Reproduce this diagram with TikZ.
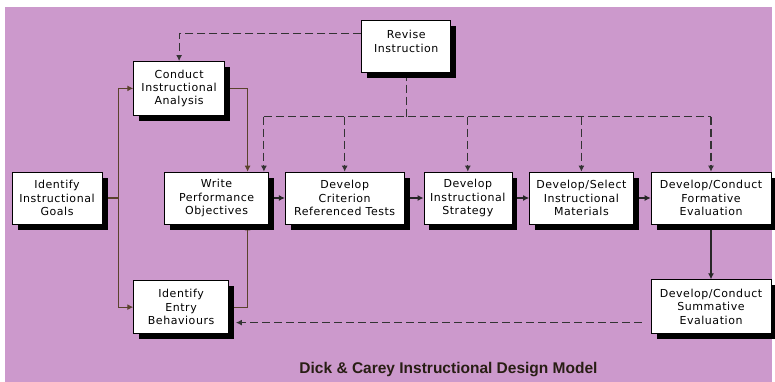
\documentclass[tikz,border=0pt]{standalone}
\usepackage{fontspec}
\setmainfont[LetterSpace=5]{DejaVu Sans}
\newfontfamily\titlefont{Liberation Sans}
\usetikzlibrary{positioning,calc,shadows,arrows.meta}
\definecolor{backpurple}{RGB}{204,153,204}
\definecolor{wirebrown}{RGB}{90,66,44}
\definecolor{titledark}{RGB}{40,30,20}
\pgfdeclarelayer{backdrop}
\pgfdeclarelayer{wires}
\pgfsetlayers{backdrop,wires,main}

\begin{document}
\begin{tikzpicture}[x=1pt,y=-1pt,thick,>={Latex[length=6pt,width=6pt]}]
    % `stage' is used for every step of the model (white boxes).
    % `wire' and `flow' are the solid connectors, `feedback' the dashed ones.
    \tikzstyle{stage} = [draw,fill=white,line width=0.6pt,minimum height=52pt,inner sep=2pt,align=center,
        font=\fontsize{11}{13.3}\selectfont,
        drop shadow={shadow xshift=5.5pt,shadow yshift=-5.5pt,fill=black,opacity=1}]
    \tikzstyle{wire} = [draw=wirebrown,line width=1.1pt,->]
    \tikzstyle{flow} = [draw=black!85,line width=1.1pt,->]
    \tikzstyle{feedback} = [draw=black!80,line width=1.1pt,dash pattern=on 8pt off 4pt]
    %
    \useasboundingbox (0,0) rectangle (775,382);
    \node[stage,minimum width=90pt] (goals) at (57,198) {Identify\\Instructional\\Goals};
    \node[stage,minimum width=104pt,right=62pt of goals] (write) {Write\\Performance\\Objectives};
    \node[stage,minimum width=119pt,right=16pt of write] (tests) {Develop\\Criterion\\Referenced Tests};
    \node[stage,minimum width=88pt,right=19pt of tests] (strategy) {Develop\\Instructional\\Strategy};
    \node[stage,minimum width=104pt,right=17pt of strategy] (materials) {Develop/Select\\Instructional\\Materials};
    \node[stage,minimum width=120pt,right=17pt of materials] (formative) {Develop/Conduct\\Formative\\Evaluation};

    \node[stage,minimum width=91pt,minimum height=54pt,above=56pt of write,xshift=-37.5pt] (analysis) {Conduct\\Instructional\\Analysis};
    \node[stage,minimum width=95pt,minimum height=53pt,below=56pt of write,xshift=-35.5pt] (entry) {Identify\\Entry\\Behaviours};
    \node[stage,minimum width=120pt,minimum height=54pt,below=55pt of formative] (summative) {Develop/Conduct\\Summative\\Evaluation};
    \coordinate (mid) at ($(tests.north)!0.5!(strategy.north)$);
    \node[stage,minimum width=89pt,minimum height=52pt,above=99pt of mid] (revise) {Revise\\Instruction\\[-3pt]};

    \node[font=\titlefont\bfseries\fontsize{15.5}{18}\selectfont,text=titledark] (caption) at (448.5,370)
        {Dick \& Carey Instructional Design Model};

  \begin{pgfonlayer}{backdrop}
        % Draw background.
        \fill[backpurple] (5,7) rectangle (772,382);
  \end{pgfonlayer}
  \begin{pgfonlayer}{wires}
        % Draw solid lines.
        \coordinate (split) at ([xshift=16pt]goals.east);
        \draw[wire] (goals.east) -- (split) |- (analysis.west);
        \draw[wire] (split) |- (entry.west);
        \draw[wire] (analysis.east) -| ([xshift=31pt]write.north);
        \draw[wire] (entry.east) -| ([xshift=31pt]write.south);
        \draw[flow] (write.east) -- (tests.west);
        \draw[flow] (tests.east) -- (strategy.west);
        \draw[flow] (strategy.east) -- (materials.west);
        \draw[flow] (materials.east) -- (formative.west);
        \draw[flow] (formative.south) -- (summative.north);
        % Draw dashed lines.
        \draw[feedback,->] ([yshift=13pt]revise.west) -| (analysis.north);
        \coordinate (bus) at ([yshift=-44pt]revise.south);
        \coordinate (wtop) at ([xshift=-5pt]write.north east);
        \draw[feedback] (revise.south) -- (bus);
        \draw[feedback] (wtop |- bus) -- (formative.north |- bus);
        \draw[feedback,->] (wtop |- bus) -- (wtop);
        \foreach \n in {tests,strategy,materials,formative}
            \draw[feedback,->] (\n.north |- bus) -- (\n.north);
        \coordinate (back) at ([xshift=-9pt,yshift=-16pt]summative.west);
        \draw[feedback,->] (back) -- ([xshift=7pt]entry.east |- back);
  \end{pgfonlayer}
\end{tikzpicture}
\end{document}
